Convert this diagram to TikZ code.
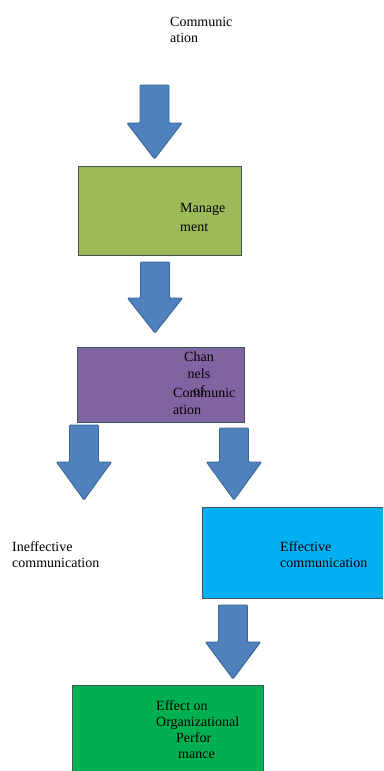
\documentclass[tikz,border=0pt]{standalone}
\usepackage{fontspec}
\setmainfont{Liberation Serif}
\definecolor{arrowfill}{HTML}{4F81BD}
\definecolor{arrowline}{HTML}{3A6597}
\definecolor{mgmt}{HTML}{9BBB59}
\definecolor{chan}{HTML}{8064A2}
\definecolor{effc}{HTML}{00B0F0}
\definecolor{perf}{HTML}{00B050}
\definecolor{boxline}{HTML}{41555E}
\tikzset{
  bigarrow/.style={fill=arrowfill,draw=arrowline,line width=0.9pt,rounded corners=1pt},
  boxshape/.style={draw=boxline,line width=1pt},
  label/.style={inner sep=0pt,anchor=north west,align=left,text=black},
}
% #1 centre x, #2 top, #3 head start, #4 tip
\newcommand\blockarrowdown[4]{%
  \draw[bigarrow] (#1-14.5,#2) -- (#1+14.5,#2) -- (#1+14.5,#3) -- (#1+27.5,#3)
    -- (#1,#4) -- (#1-27.5,#3) -- (#1-14.5,#3) -- cycle;}
\begin{document}
\begin{tikzpicture}[x=1pt,y=-1pt]
\useasboundingbox (0,0) rectangle (383,771);
\clip (0,0) rectangle (383,771);
\fill[white] (0,0) rectangle (383,771);

% title text
\node[label,font={\fontsize{14}{16.5}\selectfont}] (comm) at (170,17) {Communic\\ation};

% arrows
\blockarrowdown{154.5}{85}{123}{159}
\blockarrowdown{155}{262}{298}{333}
\blockarrowdown{84}{425}{462}{500}
\blockarrowdown{234}{428}{462}{500}
\blockarrowdown{233}{605}{642}{679}

% boxes
\draw[boxshape,fill=mgmt] (78,166) rectangle (241,255);
\node[label,font={\fontsize{14}{19}\selectfont}] (mgmttext) at (180,203) {Manage\\ment};

\draw[boxshape,fill=chan] (77,347) rectangle (244,422);
\node[inner sep=0pt,anchor=north,align=center,font={\fontsize{14}{17}\selectfont}] (chantext) at (199,352) {Chan\\nels\\of};
\node[label,font={\fontsize{14}{17}\selectfont}] (chancomm) at (173,388) {Communic\\ation};

\node[label,font={\fontsize{14}{16.5}\selectfont}] (ineff) at (12,541) {Ineffective\\communication};

\draw[boxshape,fill=effc] (202,507) rectangle (390,598);
\node[label,font={\fontsize{14}{16.5}\selectfont}] (eff) at (280,541) {Effective\\communication};

\draw[boxshape,fill=perf] (72,685) rectangle (263,780);
\node[label,font={\fontsize{14}{16}\selectfont}] (perftext) at (156,700) {Effect on\\Organizational\\\hspace*{20pt}Perfor\\\hspace*{22pt}mance};
\end{tikzpicture}
\end{document}
